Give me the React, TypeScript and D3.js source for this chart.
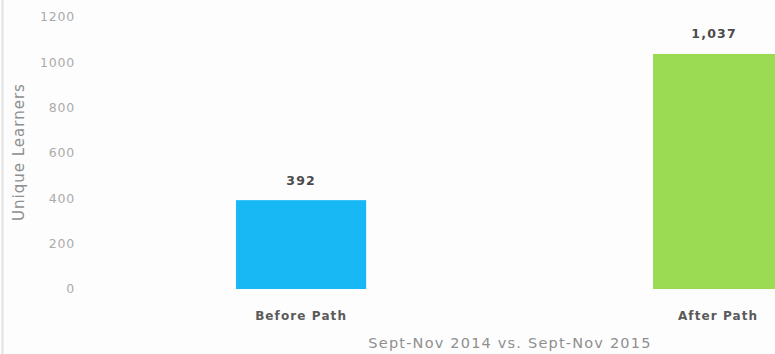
import React from "react";
import * as d3 from "d3";

const categories = ["Before Path", "After Path"];
const values = [392, 1037];
const valueLabels = ["392", "1,037"];
const yTicks = [0, 200, 400, 600, 800, 1000, 1200];
const colors = ["#17B8F4", "#9BDB54"];
const yTitle = "Unique Learners";
const xTitle = "Sept-Nov 2014 vs. Sept-Nov 2015";

export default function App() {
  const W = 775, H = 354;
  const y = d3.scaleLinear().domain([0, 1200]).range([289, 17]);
  const x = d3
    .scaleBand<string>()
    .domain(categories)
    .range([92.6, 926.6])
    .paddingInner(0.688)
    .paddingOuter(0.344);
  const font = "'DejaVu Sans', Verdana, sans-serif";
  return (
    <svg
      width={W}
      height={H}
      style={{ position: "absolute", left: 0, top: 0, background: "#fff" }}
      fontFamily={font}
    >
      <rect x={0} y={0} width={W} height={H} fill="#fdfdfd" />
      <line x1={2.5} x2={2.5} y1={0} y2={H} stroke="#e2e2e2" strokeWidth={2} />
      {yTicks.map((t) => (
        <text
          key={t}
          x={75}
          y={y(t)}
          dy="0.35em"
          textAnchor="end"
          fontSize={12.5}
          letterSpacing={0.8}
          fill="#ababab"
        >
          {t}
        </text>
      ))}
      <text
        transform={`translate(19,${152}) rotate(-90)`}
        textAnchor="middle"
        dy="0.35em"
        fontSize={15}
        letterSpacing={1}
        fill="#8f8f8f"
      >
        {yTitle}
      </text>
      {categories.map((c, i) => {
        const bx = x(c)!;
        const bw = x.bandwidth();
        return (
          <g key={c}>
            <rect
              x={bx}
              y={y(values[i])}
              width={bw}
              height={y(0) - y(values[i])}
              fill={colors[i]}
            />
            <text
              x={bx + bw / 2 - (i === 1 ? 4 : 0)}
              y={y(values[i]) - 20}
              dy="0.35em"
              textAnchor="middle"
              fontSize={12.5}
              letterSpacing={1.2}
              fontWeight="bold"
              fill="#4a4a4a"
            >
              {valueLabels[i]}
            </text>
            <text
              x={bx + bw / 2}
              y={316}
              dy="0.35em"
              textAnchor="middle"
              fontSize={12}
              letterSpacing={1.1}
              fontWeight="bold"
              fill="#5a5a5a"
            >
              {c}
            </text>
          </g>
        );
      })}
      <text
        x={510}
        y={343}
        dy="0.35em"
        textAnchor="middle"
        fontSize={14.5}
        letterSpacing={1.2}
        fill="#8f8f8f"
      >
        {xTitle}
      </text>
    </svg>
  );
}
